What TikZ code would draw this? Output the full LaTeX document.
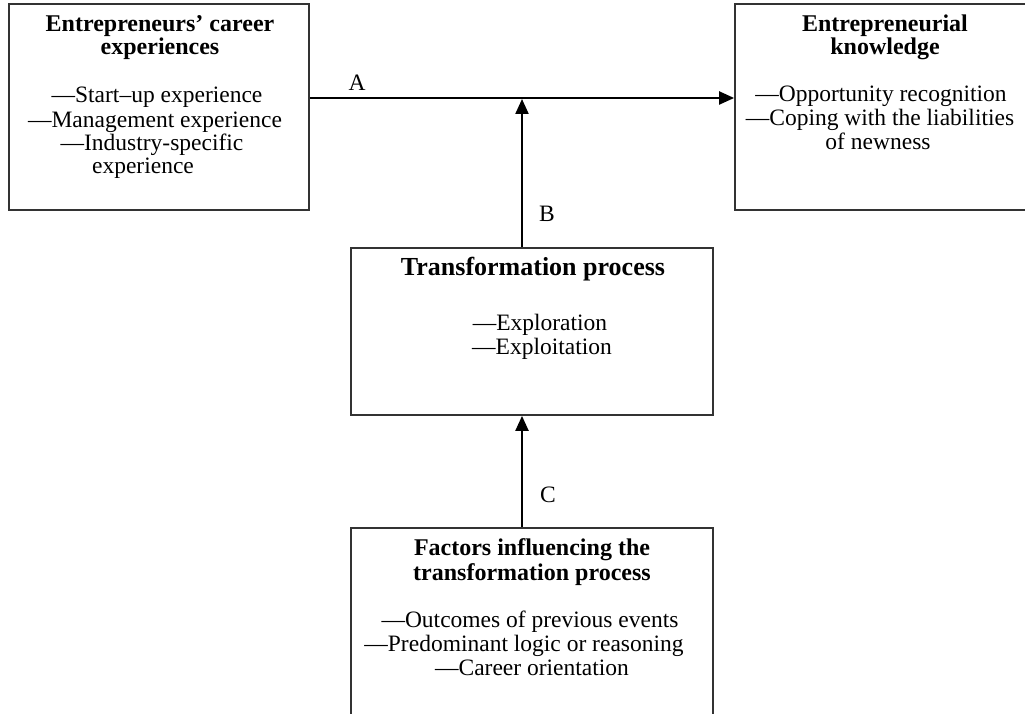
\documentclass[tikz,border=0pt]{standalone}
\usepackage{fontspec}
\setmainfont{Liberation Serif}
\usetikzlibrary{arrows.meta}
\begin{document}
\begin{tikzpicture}[x=1pt,y=-1pt,
  box/.style={draw=black!80,line width=1.8pt,inner sep=0pt},
  ttl/.style={anchor=base,inner sep=0pt,font=\fontsize{24}{28}\selectfont\bfseries},
  itm/.style={anchor=base,inner sep=0pt,font=\fontsize{23.5}{27}\selectfont},
  lbl/.style={anchor=base,inner sep=0pt,font=\fontsize{23.5}{27}\selectfont},
  arr/.style={line width=2.2pt,-{Triangle[length=15pt,width=13pt]}}]
\useasboundingbox (0,0) rectangle (1025,714);
\clip (0,0) rectangle (1025,714);

% boxes
\node[box,minimum width=300pt,minimum height=206pt] (career) at (159,107) {};
\node[box,minimum width=300pt,minimum height=206pt] (know) at (885,107) {};
\node[box,minimum width=362pt,minimum height=167pt] (trans) at (532,331.5) {};
\node[box,minimum width=362pt,minimum height=200pt] (factors) at (532,628) {};

% box texts
\node[ttl] at (160,32) {Entrepreneurs’ career};
\node[ttl] at (160,55) {experiences};
\node[itm] at (157,103) {—Start–up experience};
\node[itm] at (155,128) {—Management experience};
\node[itm] at (152,151) {—Industry-specific};
\node[itm] at (143,174) {experience};

\node[ttl] at (885,32) {Entrepreneurial};
\node[ttl] at (885,55) {knowledge};
\node[itm] at (881,102) {—Opportunity recognition};
\node[itm] at (880,126) {—Coping with the liabilities};
\node[itm] at (878,150) {of newness};

\node[ttl,font=\fontsize{26}{30}\selectfont\bfseries] at (533,275) {Transformation process};
\node[itm] at (540,330) {—Exploration};
\node[itm] at (542,354) {—Exploitation};

\node[ttl] at (532,555) {Factors influencing the};
\node[ttl] at (532,580) {transformation process};
\node[itm] at (530,627) {—Outcomes of previous events};
\node[itm] at (524,651) {—Predominant logic or reasoning};
\node[itm] at (532,675) {—Career orientation};

% connectors
\coordinate (joinAB) at (522,98);
\draw[arr] (career.east |- joinAB) -- (know.west |- joinAB);
\draw[arr] (joinAB |- trans.north) -- ([yshift=-1pt]joinAB);
\draw[arr] (joinAB |- factors.north) -- (joinAB |- trans.south);

% connector labels
\node[lbl] (labA) at (357,91) {A};
\node[lbl] (labB) at (547,222) {B};
\node[lbl] (labC) at (548,502) {C};
\end{tikzpicture}
\end{document}
